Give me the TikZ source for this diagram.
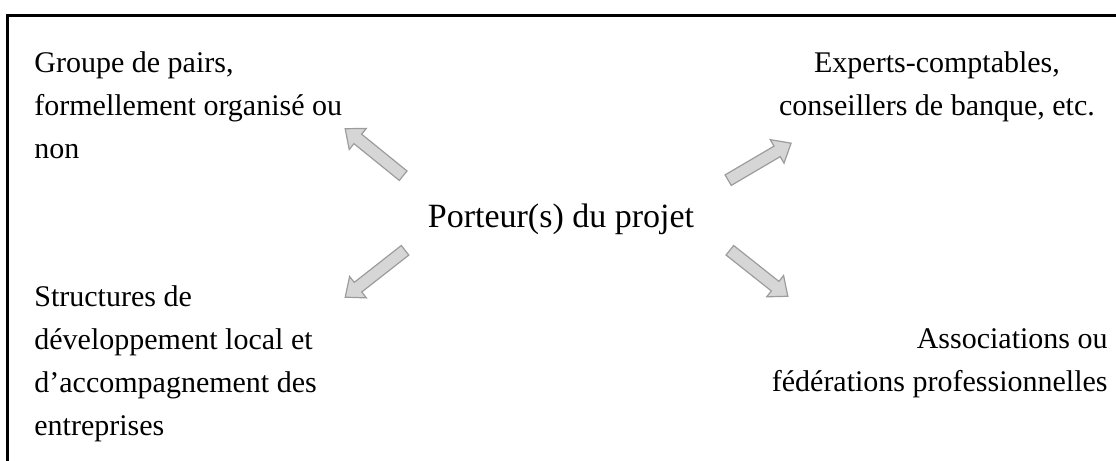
\documentclass[tikz,border=0pt]{standalone}
\usepackage{fontspec}
\setmainfont{Liberation Serif}
\usetikzlibrary{shapes.arrows}
\definecolor{arrowfill}{HTML}{D6D6D6}
\definecolor{arrowline}{HTML}{9C9C9C}
\newcommand\LftLines[1]{\vtop{\baselineskip=21.5pt\lineskiplimit=-10pt\halign{##\hfil\cr#1\crcr}}}
\newcommand\CtrLines[1]{\vtop{\baselineskip=21.5pt\lineskiplimit=-10pt\halign{\hfil##\hfil\cr#1\crcr}}}
\newcommand\RgtLines[1]{\vtop{\baselineskip=21.5pt\lineskiplimit=-10pt\halign{\hfil##\cr#1\crcr}}}
\tikzset{
  sidetext/.style={inner sep=0pt, font=\fontsize{15pt}{21.5pt}\selectfont},
  maintext/.style={inner sep=0pt, font=\fontsize{17pt}{21pt}\selectfont},
  blockarrow/.style={single arrow, draw=arrowline, fill=arrowfill, line width=0.6pt,
    inner xsep=0pt, inner ysep=2.75pt, text height=0pt, text depth=0pt,
    minimum width=13pt, single arrow head extend=3.75pt,
    single arrow tip angle=80, sloped, allow upside down},
  frame/.style={line width=1.3pt}
}
\begin{document}
\begin{tikzpicture}[x=0.5pt,y=-0.5pt]
\useasboundingbox (0,0) rectangle (1116,461);
\draw[frame] (1116,15.5) -- (7.5,15.5) -- (7.5,461);
\node[maintext, anchor=base] (center) at (561,227) {Porteur(s) du projet};
\node[sidetext, anchor=base west] (tl) at (34,72) {\LftLines{Groupe de pairs,\cr formellement organisé ou\cr non}};
\node[sidetext, anchor=base] (tr) at (937,72) {\CtrLines{Experts-comptables,\cr conseillers de banque, etc.}};
\node[sidetext, anchor=base west] (bl) at (34,306) {\LftLines{Structures de\cr développement local et\cr d’accompagnement des\cr entreprises}};
\node[sidetext, anchor=base east] (br) at (1108,348) {\RgtLines{Associations ou\cr fédérations professionnelles}};
\coordinate (tlT) at (406,178); \coordinate (tlH) at (348,131);
\coordinate (trT) at (725,182); \coordinate (trH) at (788,145);
\coordinate (blT) at (408,248); \coordinate (blH) at (348,295);
\coordinate (brT) at (727,248); \coordinate (brH) at (785,294);
\path (tlT) -- node[blockarrow, minimum height=37.3pt] (atl) {} (tlH);
\path (trT) -- node[blockarrow, minimum height=36.5pt] (atr) {} (trH);
\path (blT) -- node[blockarrow, minimum height=38pt] (abl) {} (blH);
\path (brT) -- node[blockarrow, minimum height=37pt] (abr) {} (brH);
\end{tikzpicture}
\end{document}
